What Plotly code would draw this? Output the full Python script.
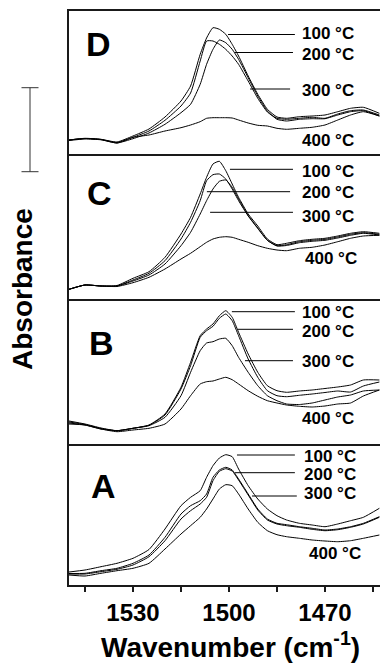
import plotly.graph_objects as go

# ---------------- data (absorbance, arbitrary units x1e-3) ----------------
wavenumber = [1550, 1545, 1540, 1535, 1530, 1525, 1520, 1515, 1512, 1509, 1507, 1505,
              1503, 1501, 1499, 1497, 1494, 1491, 1488, 1485, 1482, 1478, 1474, 1470,
              1466, 1462, 1458, 1453]

temperatures = ["100 °C", "200 °C", "300 °C", "400 °C"]

D_100 = [14, 15.7, 14.7, 12, 18, 25, 37, 53, 68, 99.7, 116, 126.3, 124.7, 119.7, 109.7, 98, 78, 59.7, 44.7, 37, 35.7, 37.3, 38, 39, 42.3, 45.7, 46.7, 40.7]
D_200 = [14, 15.5, 14.5, 11.5, 16.7, 23, 33.7, 48, 61, 93, 113, 113, 109.7, 104.7, 98, 89.7, 73, 55.7, 42, 35.7, 34.7, 35.7, 36.7, 35.7, 40, 43.3, 44, 39]
D_300 = [13.5, 15, 14.2, 11, 15.3, 21, 29.7, 41.3, 49.7, 69.7, 89.7, 104.7, 114, 111.3, 104.7, 94.7, 76.3, 58, 43, 34.7, 33, 34.7, 35.3, 35.3, 39, 42.3, 43.3, 38]
D_400 = [14, 15.5, 14.5, 11, 16.7, 19, 23, 26.3, 29, 32.3, 35.7, 36.3, 36.3, 36.3, 36, 34, 31, 28.7, 28, 25.7, 24.7, 25.7, 26.7, 29, 34, 39, 42.3, 38]

C_100 = [9.7, 14, 13, 13.5, 20.7, 27.3, 41.7, 65, 81.7, 105, 121.7, 135, 137.7, 128.3, 115, 101.7, 85, 73, 60, 54.3, 55.7, 58.3, 59.7, 60.7, 63, 65.7, 67.3, 65.7]
C_200 = [9.7, 14, 13, 13, 19, 25.7, 38.3, 60, 76.7, 98.3, 118.3, 124.3, 125, 120, 110, 98.3, 83, 70.5, 58.7, 53.3, 54.3, 57.3, 58.7, 59.7, 62, 64.7, 66.3, 64.7]
C_300 = [9.7, 14, 13, 13, 18, 24, 35, 53.3, 66.7, 85, 98.3, 110, 117.7, 119, 111.7, 100, 83.5, 71, 58.7, 53, 53.5, 56.3, 57.7, 58.7, 61, 63.7, 65.7, 64]
C_400 = [9.7, 14, 13, 12.5, 16.3, 21.7, 30, 40, 45.7, 52.3, 56.7, 60, 61.7, 62.3, 61.7, 59.7, 56.7, 53.3, 50.7, 49, 48.3, 50.7, 51.7, 54, 57.3, 60.7, 63, 63.7]

B_100 = [23, 20, 16, 13.3, 15.7, 19, 30, 56.7, 81.7, 108.3, 115, 120, 128.3, 133.3, 126.7, 111.7, 90, 71.7, 58.3, 53.3, 51.7, 53, 54, 55.5, 57, 59, 64, 64]
B_200 = [22, 19.5, 15.5, 13.3, 15.7, 18.7, 29, 55, 78.3, 106.7, 113.3, 117.7, 125.7, 130, 123.3, 108.3, 85, 66.7, 53.3, 48.3, 47.3, 48.7, 50, 51.5, 53, 52, 58, 62]
B_300 = [21, 19, 15, 13.3, 15.7, 18.3, 26.7, 48.3, 71.7, 93.3, 101, 102.3, 105, 105.7, 98.3, 86.7, 71.7, 58.3, 48.3, 43.3, 40, 39.5, 41, 44, 47, 49, 53, 54]
B_400 = [20, 19, 15, 12.3, 14, 15.7, 20, 35, 48.3, 60, 62.3, 63, 65, 66.7, 64.3, 60, 53.3, 47.7, 43.3, 41, 39, 37.7, 37, 38, 40, 41, 48, 54]

A_100 = [13, 15, 18.3, 21.7, 26.7, 35.5, 56, 79.3, 87.7, 94.3, 107.7, 119.3, 127, 130.3, 128.3, 116, 99.3, 86, 76, 69.3, 65, 61.7, 60, 58.3, 61, 64.3, 67.7, 76.7]
A_200 = [11.5, 11.7, 14.3, 16.7, 21.7, 30, 47.7, 71, 79.3, 84.3, 91, 107.7, 115, 117.7, 115, 106, 91, 76, 66, 61.7, 60.3, 58.3, 56.7, 55, 56, 58.3, 61.7, 68.3]
A_300 = [11, 11, 13.3, 15.7, 20, 28.3, 44.3, 66, 74.3, 81, 87.7, 104.3, 113.7, 116.3, 114, 105, 90, 75, 65, 61, 59.3, 57.7, 55.7, 54.3, 55.3, 57.7, 61, 67.7]
A_400 = [10, 9, 11.7, 14.3, 16.7, 21.7, 36, 51, 59.3, 67.7, 76, 86, 96, 100.3, 99.3, 91, 76, 62.7, 54.3, 50.3, 48.3, 46.7, 45, 44, 43.3, 44.3, 46.7, 50]

major_ticks = [1530, 1500, 1470]
minor_tick_step = 15

# label positions per panel: (text x, text y) and leader lines (x0, x1, y)
label_text_pos = {
    "D": [(1477.8, 120.5), (1477.8, 99.5), (1477.8, 64), (1477.8, 14)],
    "C": [(1477.8, 127.3), (1477.8, 106.3), (1477.8, 83), (1476.9, 40.7)],
    "B": [(1477.8, 131.3), (1477.8, 112.3), (1477.8, 82.3), (1477.8, 25.7)],
    "A": [(1477.2, 128.3), (1477.2, 110.7), (1477.2, 91.7), (1475.6, 31.7)],
}
leader_lines = {
    "D": [(1500.3, 1479.4, 119.5), (1498.1, 1480.0, 101.5), (1493.4, 1480.9, 65)],
    "C": [(1499.7, 1480.0, 129.7), (1506.9, 1480.9, 107.3), (1505.9, 1480.0, 86.7)],
    "B": [(1499.1, 1479.4, 132.3), (1497.2, 1480.0, 114.7), (1495.0, 1480.0, 83.3)],
    "A": [(1497.5, 1479.4, 130.0), (1498.1, 1479.4, 112.3), (1492.8, 1478.8, 89.0)],
}
panel_letter_pos = {"D": (1540.9, 110), "C": (1540.6, 106), "B": (1539.8, 101), "A": (1539.1, 99.5)}

panels = [
    ("D", [D_100, D_200, D_300, D_400], 143),
    ("C", [C_100, C_200, C_300, C_400], 145),
    ("B", [B_100, B_200, B_300, B_400], 145),
    ("A", [A_100, A_200, A_300, A_400], 141),
]

# ---------------- figure ----------------
W, H = 380, 665
ML, MR, MT, MB = 69, 0, 11, 80
plot_h = H - MT - MB
FONT = "Liberation Sans, Arial, sans-serif"
LINEC = "#1a1a1a"

fig = go.Figure()
layout = dict(
    width=W, height=H,
    margin=dict(l=ML, r=MR, t=MT, b=MB),
    paper_bgcolor="white", plot_bgcolor="white",
    showlegend=False,
    font=dict(family=FONT, color="black"),
)

annotations = []
shapes = []
top = 1.0
for i, (name, series, ph) in enumerate(panels):
    n = i + 1
    xa = "x" if n == 1 else f"x{n}"
    ya = "y" if n == 1 else f"y{n}"
    bottom = top - ph / plot_h
    is_bottom = (i == len(panels) - 1)
    if is_bottom:
        bottom = 0.0
    for s, t in zip(series, temperatures):
        fig.add_trace(go.Scatter(
            x=wavenumber, y=s, mode="lines", name=f"{name} {t}",
            line=dict(color="black", width=1, shape="spline", smoothing=0.5),
            xaxis=xa, yaxis=ya, hoverinfo="skip",
        ))
    xdict = dict(
        domain=[0, 1], anchor=ya, range=[1550, 1452.8],
        showgrid=False, zeroline=False,
        showline=True, mirror=(i == 0), linecolor=LINEC, linewidth=1.5,
        showticklabels=is_bottom,
    )
    if is_bottom:
        xdict.update(
            ticks="outside", ticklen=5, tickwidth=1.5, tickcolor=LINEC,
            tickmode="array", tickvals=major_ticks,
            tickfont=dict(family=FONT, size=24, color="black", weight="bold"),
            minor=dict(ticks="outside", ticklen=5, tickwidth=1.5, tickcolor=LINEC,
                       tick0=1455, dtick=minor_tick_step, showgrid=False),
        )
    else:
        xdict.update(ticks="")
    layout["xaxis" if n == 1 else f"xaxis{n}"] = xdict
    layout["yaxis" if n == 1 else f"yaxis{n}"] = dict(
        domain=[bottom, top], anchor=xa, range=[0, ph],
        showgrid=False, zeroline=False, showticklabels=False, ticks="",
        showline=True, mirror=False, linecolor=LINEC, linewidth=1.5,
    )
    # panel letter
    lx, ly = panel_letter_pos[name]
    annotations.append(dict(
        x=lx, y=ly, xref=xa, yref=ya, text=f"<b>{name}</b>", showarrow=False,
        font=dict(family=FONT, size=34, color="black"),
        xanchor="center", yanchor="middle",
    ))
    # temperature labels
    for (tx, ty), t in zip(label_text_pos[name], temperatures):
        annotations.append(dict(
            x=tx, y=ty, xref=xa, yref=ya, text=f"<b>{t}</b>", showarrow=False,
            font=dict(family=FONT, size=17, color="black"),
            xanchor="left", yanchor="middle",
        ))
    for x0, x1, yy in leader_lines[name]:
        shapes.append(dict(type="line", xref=xa, yref=ya, x0=x0, x1=x1, y0=yy, y1=yy,
                           line=dict(color="black", width=1)))
    top = bottom

# axis titles
annotations.append(dict(
    x=(230 - ML) / (W - ML), y=(plot_h + MT - 645) / plot_h, xref="paper", yref="paper",
    text="<b>Wavenumber (cm<sup>-1</sup>)</b>", showarrow=False,
    font=dict(family=FONT, size=28, color="black"), xanchor="center", yanchor="middle",
))
annotations.append(dict(
    x=(22 - ML) / (W - ML), y=(plot_h + MT - 289) / plot_h, xref="paper", yref="paper",
    text="<b>Absorbance</b>", showarrow=False, textangle=-90,
    font=dict(family=FONT, size=28, color="black"), xanchor="center", yanchor="middle",
))

# scale bar (absorbance scale)
def px_x(p):
    return (p - ML) / (W - ML)

def px_y(p):
    return (plot_h + MT - p) / plot_h

sb_x, sb_y0, sb_y1, sb_half = 30, 87.7, 171.7, 8.5
for sh in [
    (sb_x, sb_y0, sb_x, sb_y1),
    (sb_x - sb_half, sb_y0, sb_x + sb_half, sb_y0),
    (sb_x - sb_half, sb_y1, sb_x + sb_half, sb_y1),
]:
    shapes.append(dict(type="line", xref="paper", yref="paper",
                       x0=px_x(sh[0]), y0=px_y(sh[1]), x1=px_x(sh[2]), y1=px_y(sh[3]),
                       line=dict(color="#333", width=1)))

layout["annotations"] = annotations
layout["shapes"] = shapes
fig.update_layout(**layout)
fig.write_html("out.html")
